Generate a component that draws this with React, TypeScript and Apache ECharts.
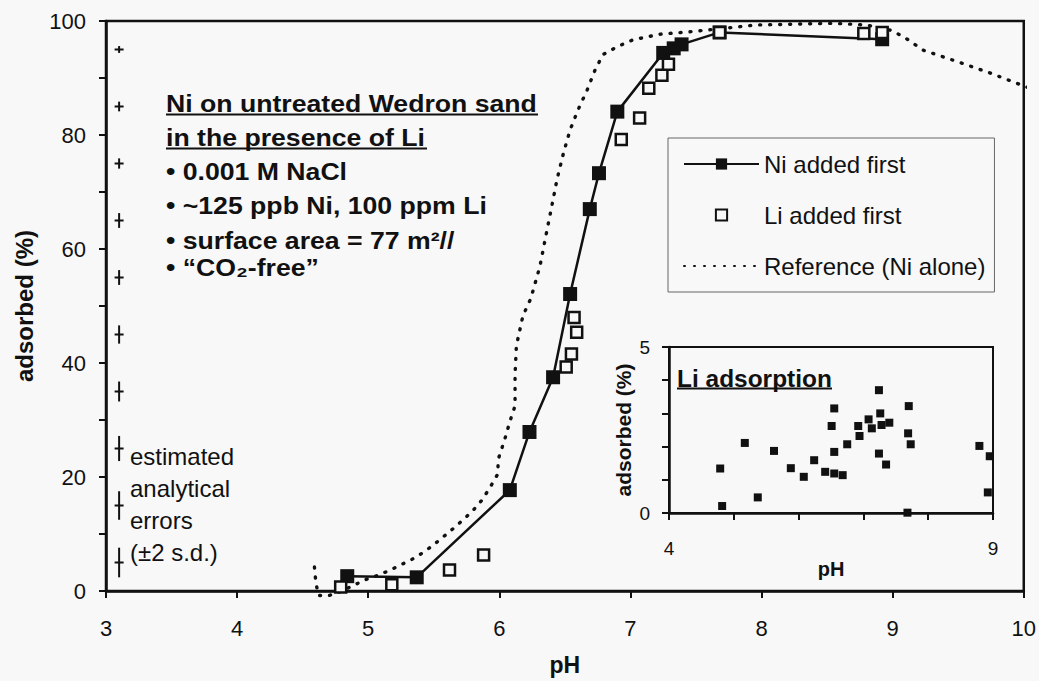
import React, { useEffect, useRef } from "react";
import * as echarts from "echarts";

// ---------- data ----------
const niFirstX = [4.84, 5.37, 6.08, 6.23, 6.41, 6.54, 6.69, 6.76, 6.9, 7.25, 7.33, 7.39, 7.68, 8.92];
const niFirstY = [2.6, 2.4, 17.7, 27.9, 37.5, 52.1, 67.0, 73.3, 84.1, 94.4, 95.2, 95.9, 98.0, 96.8];

const liFirstX = [4.79, 5.18, 5.62, 5.88, 6.51, 6.55, 6.59, 6.57, 6.93, 7.07, 7.14, 7.24, 7.29, 7.68, 8.78, 8.92];
const liFirstY = [0.7, 1.1, 3.7, 6.3, 39.3, 41.6, 45.4, 48.0, 79.2, 83.0, 88.2, 90.5, 92.4, 98.0, 97.8, 98.0];

const refX = [4.59, 4.6, 4.62, 4.7, 4.8, 4.87, 4.98, 5.08, 5.17, 5.25, 5.33, 5.43, 5.52, 5.62, 5.7, 5.79, 5.87, 5.94, 5.99, 5.99, 6.04, 6.08, 6.12, 6.12, 6.13, 6.18, 6.24, 6.31, 6.36, 6.4, 6.44, 6.49, 6.54, 6.6, 6.67, 6.73, 6.79, 6.9, 7.02, 7.23, 7.45, 7.96, 8.55, 8.8, 8.98, 9.08, 9.23, 9.49, 9.74, 10.08];
const refY = [4.2, 1.6, -0.8, -0.8, 0.0, 0.8, 2.0, 2.8, 3.7, 4.6, 5.5, 6.9, 8.5, 10.4, 12.0, 13.9, 16.0, 18.6, 20.6, 23.0, 26.5, 29.7, 32.5, 38.0, 43.0, 48.3, 51.3, 57.0, 62.9, 67.5, 72.2, 76.9, 80.9, 84.4, 87.9, 91.4, 94.1, 95.5, 96.7, 97.7, 98.1, 99.3, 99.6, 99.3, 98.4, 97.3, 94.9, 92.9, 90.9, 87.9];

const errX = 3.1;
const errCenters = [95, 85, 75, 65, 55, 45, 35, 25, 15, 5];
const errHalf = [0.6, 0.85, 0.9, 1.3, 1.3, 1.6, 1.75, 2.2, 2.5, 2.6];

const liAdsX = [4.79, 4.82, 5.17, 5.37, 5.62, 5.88, 6.08, 6.24, 6.41, 6.55, 6.68, 6.51, 6.55, 6.55, 6.75, 6.94, 6.92, 7.08, 7.13, 7.24, 7.26, 7.28, 7.4, 7.24, 7.35, 7.7, 7.69, 7.73, 7.68, 8.79, 8.95, 8.92];
const liAdsY = [1.34, 0.21, 2.11, 0.47, 1.87, 1.35, 1.09, 1.59, 1.24, 1.19, 1.14, 2.62, 3.15, 1.84, 2.07, 2.32, 2.62, 2.82, 2.55, 3.7, 3.0, 2.65, 2.72, 1.79, 1.46, 3.22, 2.4, 2.07, 0.01, 2.02, 1.71, 0.62];

const mainYLabels = [0, 20, 40, 60, 80, 100];
const insetXLabels = [4, 9];
const insetYLabels = [0, 5];

const seriesNames = ["Ni added first", "Li added first", "Reference (Ni alone)"];
const noteTitle = ["Ni on untreated Wedron sand", "in the presence of Li"];
const noteBullets = ["• 0.001 M NaCl", "• ~125 ppb Ni, 100 ppm Li", "• surface area = 77 m²//", "• “CO₂-free”"];
const errNote = ["estimated", "analytical", "errors", "(±2 s.d.)"];
const insetTitle = "Li adsorption";

const FONT = '"Liberation Sans", Arial, Helvetica, sans-serif';
const INK = "#111111";
const BG = "#f8f8f8";

export default function App() {
  const ref = useRef<HTMLDivElement>(null);

  useEffect(() => {
    if (!ref.current) return;
    const chart = echarts.init(ref.current, undefined, { renderer: "svg" });

    const boldText = (text: string, x: number, y: number, size: number, sx: number) => ({
      type: "text",
      x,
      y,
      scaleX: sx,
      silent: true,
      style: {
        text,
        font: `bold ${size}px ${FONT}`,
        fill: INK,
        textAlign: "left",
        textVerticalAlign: "middle",
        align: "left",
        verticalAlign: "middle",
      },
    });
    const regText = (text: string, x: number, y: number, size: number) => ({
      type: "text",
      x,
      y,
      silent: true,
      style: {
        text,
        font: `${size}px ${FONT}`,
        fill: INK,
        textAlign: "left",
        textVerticalAlign: "middle",
        align: "left",
        verticalAlign: "middle",
      },
    });
    const uline = (x1: number, x2: number, y: number) => ({
      type: "line",
      silent: true,
      shape: { x1, y1: y, x2, y2: y },
      style: { stroke: INK, lineWidth: 2 },
    });

    const titleRows = [103, 137];
    const bulletRows = [171, 205, 240, 267];
    const errRows = [456, 488, 520, 552];

    const graphics: any[] = [];
    noteTitle.forEach((t, i) => graphics.push(boldText(t, 166, titleRows[i], 24, 1.11)));
    graphics.push(uline(166, 538, 114.5));
    graphics.push(uline(166, 427, 148.5));
    noteBullets.forEach((t, i) => graphics.push(boldText(t, 166, bulletRows[i], 24, 1.11)));
    errNote.forEach((t, i) => graphics.push(regText(t, 130, errRows[i], 24)));
    graphics.push(boldText(insetTitle, 677, 379, 23, 1.064));
    graphics.push(uline(677, 832, 388.5));

    const axisLine = () => ({ show: true, onZero: false, lineStyle: { color: INK, width: 2.5, opacity: 1 } });
    const axisTick = (len: number) => ({
      show: true, inside: false, alignWithLabel: false, interval: 0, length: len,
      lineStyle: { color: INK, width: 2, opacity: 1 },
    });

    const option: any = {
      animation: false,
      backgroundColor: BG,
      textStyle: { fontFamily: FONT, color: INK },
      grid: [
        { left: 106, right: 15, top: 21, bottom: 88, show: true, borderColor: INK, borderWidth: 2.5 },
        { left: 669, right: 46, top: 347, bottom: 168, show: true, borderColor: INK, borderWidth: 2 },
      ],
      xAxis: [
        {
          type: "value", gridIndex: 0, min: 3, max: 10, interval: 1,
          name: "pH", nameLocation: "middle", nameGap: 62,
          nameTextStyle: { fontSize: 23, fontWeight: "bold", color: INK, fontFamily: FONT },
          axisLine: axisLine(),
          axisTick: axisTick(7),
          axisLabel: { fontSize: 22, color: INK, margin: 26, fontFamily: FONT },
          splitLine: { show: false },
        },
        {
          type: "value", gridIndex: 1, min: 4, max: 9, interval: 1,
          name: "pH", nameLocation: "middle", nameGap: 44,
          nameTextStyle: { fontSize: 20, fontWeight: "bold", color: INK, fontFamily: FONT },
          axisLine: axisLine(),
          axisTick: axisTick(7),
          axisLabel: {
            fontSize: 19, color: INK, margin: 26, fontFamily: FONT,
            formatter: (v: number) => (insetXLabels.includes(v) ? String(v) : ""),
          },
          splitLine: { show: false },
        },
      ],
      yAxis: [
        {
          type: "value", gridIndex: 0, min: 0, max: 100, interval: 10,
          name: "adsorbed (%)", nameLocation: "middle", nameGap: 70,
          nameTextStyle: { fontSize: 24, fontWeight: "bold", color: INK, fontFamily: FONT },
          axisLine: axisLine(),
          axisTick: axisTick(7),
          axisLabel: {
            fontSize: 22, color: INK, margin: 20, fontFamily: FONT,
            formatter: (v: number) => (mainYLabels.includes(v) ? String(v) : ""),
          },
          splitLine: { show: false },
        },
        {
          type: "value", gridIndex: 1, min: 0, max: 5, interval: 1,
          name: "adsorbed (%)", nameLocation: "middle", nameGap: 35,
          nameTextStyle: { fontSize: 21, fontWeight: "bold", color: INK, fontFamily: FONT },
          axisLine: axisLine(),
          axisTick: axisTick(7),
          axisLabel: {
            fontSize: 19, color: INK, margin: 19, fontFamily: FONT,
            formatter: (v: number) => (insetYLabels.includes(v) ? String(v) : ""),
          },
          splitLine: { show: false },
        },
      ],
      legend: {
        data: [
          { name: seriesNames[0] },
          { name: seriesNames[1] },
          { name: seriesNames[2], itemStyle: { opacity: 0 } },
        ],
        orient: "vertical",
        left: 668,
        top: 138,
        padding: [14, 9, 14, 15],
        itemGap: 27,
        itemWidth: 75,
        itemHeight: 14,
        borderColor: "#666",
        borderWidth: 1,
        selectedMode: false,
        textStyle: { fontSize: 24, color: INK, fontFamily: FONT },
      },
      series: [
        {
          name: seriesNames[2],
          type: "line",
          xAxisIndex: 0, yAxisIndex: 0,
          data: refX.map((x, i) => [x, refY[i]]),
          symbol: "none",
          clip: false,
          z: 2,
          lineStyle: { color: INK, width: 3.4, type: [1, 9], cap: "round" },
          itemStyle: { color: INK },
        },
        {
          name: seriesNames[0],
          type: "line",
          xAxisIndex: 0, yAxisIndex: 0,
          data: niFirstX.map((x, i) => [x, niFirstY[i]]),
          symbol: "rect",
          symbolSize: 14,
          showAllSymbol: true,
          z: 3,
          lineStyle: { color: INK, width: 2.5 },
          itemStyle: { color: INK, opacity: 1 },
        },
        {
          name: seriesNames[1],
          type: "line",
          xAxisIndex: 0, yAxisIndex: 0,
          data: liFirstX.map((x, i) => [x, liFirstY[i]]),
          symbol: "rect",
          symbolSize: 11,
          showAllSymbol: true,
          z: 4,
          lineStyle: { width: 0, opacity: 0 },
          itemStyle: { color: BG, borderColor: INK, borderWidth: 2.5, opacity: 1 },
        },
        {
          name: "errors",
          type: "custom",
          xAxisIndex: 0, yAxisIndex: 0,
          silent: true,
          data: errCenters.map((c, i) => [errX, c, errHalf[i]]),
          renderItem: (params: any, api: any) => {
            const x = api.value(0);
            const c = api.value(1);
            const h = api.value(2);
            const top = api.coord([x, c + h]);
            const bot = api.coord([x, c - h]);
            const mid = api.coord([x, c]);
            return {
              type: "group",
              children: [
                { type: "line", shape: { x1: top[0], y1: top[1], x2: bot[0], y2: bot[1] }, style: { stroke: INK, lineWidth: 2 } },
                { type: "line", shape: { x1: mid[0] - 4.5, y1: mid[1], x2: mid[0] + 4.5, y2: mid[1] }, style: { stroke: INK, lineWidth: 2 } },
              ],
            };
          },
        },
        {
          name: "Li adsorption",
          type: "scatter",
          xAxisIndex: 1, yAxisIndex: 1,
          data: liAdsX.map((x, i) => [x, liAdsY[i]]),
          symbol: "rect",
          symbolSize: 8,
          z: 4,
          itemStyle: { color: INK, opacity: 1 },
        },
      ],
      graphic: graphics,
    };

    chart.setOption(option);
    return () => chart.dispose();
  }, []);

  return (
    <div
      ref={ref}
      style={{ position: "absolute", left: 0, top: 0, width: 1039, height: 681, background: BG }}
    />
  );
}
